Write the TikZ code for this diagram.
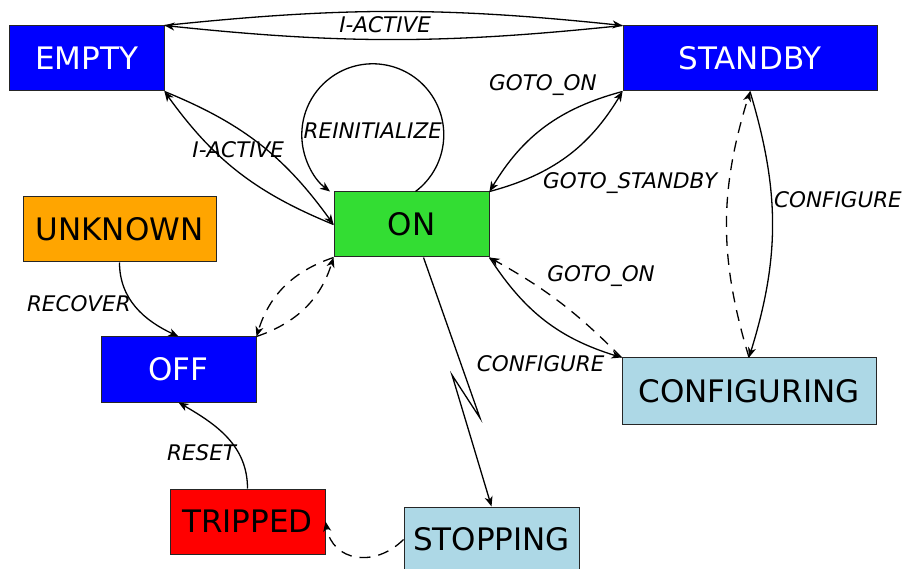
\documentclass[tikz,border=0pt]{standalone}
\usepackage{fontspec}
\setmainfont{DejaVu Sans}
\usetikzlibrary{arrows.meta}

\definecolor{ongreen}{RGB}{51,221,51}
\definecolor{unkorange}{RGB}{255,165,0}
\definecolor{busyblue}{RGB}{173,216,230}

\begin{document}
\begin{tikzpicture}
  [x=1pt,y=1pt,>={Stealth[length=10pt,width=8pt,inset=3pt]},
   state/.style={rectangle,draw=black!85,line width=1pt,minimum width=155pt,
     minimum height=65pt,inner sep=0pt,font=\fontsize{31}{36}\selectfont},
   lbl/.style={font=\fontsize{21.5}{26}\selectfont\itshape,inner sep=2pt},
   trans/.style={->,line width=1.3pt},
   guard/.style={dash pattern=on 11pt off 8pt}]
  \useasboundingbox (0,0) rectangle (908,-569);

  \node[state,fill=blue,text=white] (empty) at (86.5,-58.5) {EMPTY};
  \node[state,fill=blue,text=white,minimum width=254pt] (standby) at (750,-58.5) {STANDBY};
  \node[state,fill=ongreen] (on) at (411.5,-224.5) {ON};
  \node[state,fill=unkorange,minimum width=193pt] (unknown) at (119.5,-229.5) {UNKNOWN};
  \node[state,fill=blue,text=white] (off) at (178.5,-369.5) {OFF};
  \node[state,fill=busyblue,minimum width=254pt,minimum height=66pt] (configuring) at (749,-391) {CONFIGURING};
  \node[state,fill=red] (tripped) at (247.5,-521.5) {TRIPPED};
  \node[state,fill=busyblue,minimum width=175pt] (stopping) at (491.5,-539.5) {STOPPING};

  \coordinate (bolt1) at (480,-418);
  \coordinate (bolt2) at (452,-375);

  % empty <-> standby
  \draw[trans] (empty.north east) to[bend left=6]
    node[lbl,pos=.48,below=2pt] (lactive1) {I-ACTIVE} (standby.north west);
  \draw[trans] (standby.north west) to[bend left=6] (empty.north east);

  % empty <-> on
  \draw[trans] (empty.south east) to[bend left=16] (on.west);
  \draw[trans] (on.west) to[bend left=16]
    node[lbl,midway,above=11pt] (lactive2) {I-ACTIVE} (empty.south east);

  % self loop on on
  \draw[trans] (on.north) ++(4,0) arc[start angle=-53,end angle=233,radius=71]
    node[lbl,midway,below=56pt] (lreinit) {REINITIALIZE};

  % standby <-> on
  \draw[trans] (standby.south west) to[bend right=22]
    node[lbl,pos=.13,above left] (lgotoon1) {GOTO\_ON} (on.north east);
  \draw[trans] (on.north east) to[bend right=22]
    node[lbl,pos=.32,anchor=north west,inner sep=0pt] (lgotosb) {GOTO\_STANDBY} (standby.south west);

  % standby <-> configuring
  \draw[trans,guard] (configuring.north) to[bend left=17] (standby.south);
  \draw[trans] (standby.south) to[bend left=17]
    node[lbl,pos=.4,right] (lconf1) {CONFIGURE} (configuring.north);

  % on <-> configuring
  \draw[trans] (on.south east) to[bend right=20]
    node[lbl,pos=.92,anchor=north east] (lconf2) {CONFIGURE} (configuring.north west);
  \draw[trans,guard] (configuring.north west) to[bend right=8]
    node[lbl,pos=.62,above right,yshift=2pt] (lgotoon2) {GOTO\_ON} (on.south east);

  % on <-> off
  \draw[trans,guard] (on.south west) to[bend right=27] (off.north east);
  \draw[trans,guard] (off.north east) to[bend right=27] (on.south west);

  % on -> stopping
  \draw[trans] (on.-70) -- (bolt1) -- (bolt2) -- (stopping.north);

  % recovery path
  \draw[trans] (unknown.south) to[out=-90,in=155]
    node[lbl,pos=.45,left] (lrecover) {RECOVER} (off.north);
  \draw[trans] (tripped.north) to[out=90,in=-30]
    node[lbl,pos=.32,left] (lreset) {RESET} (off.south);
  \draw[trans,guard] (stopping.west) to[out=225,in=-80,looseness=1.3] (tripped.east);

\end{tikzpicture}
\end{document}
